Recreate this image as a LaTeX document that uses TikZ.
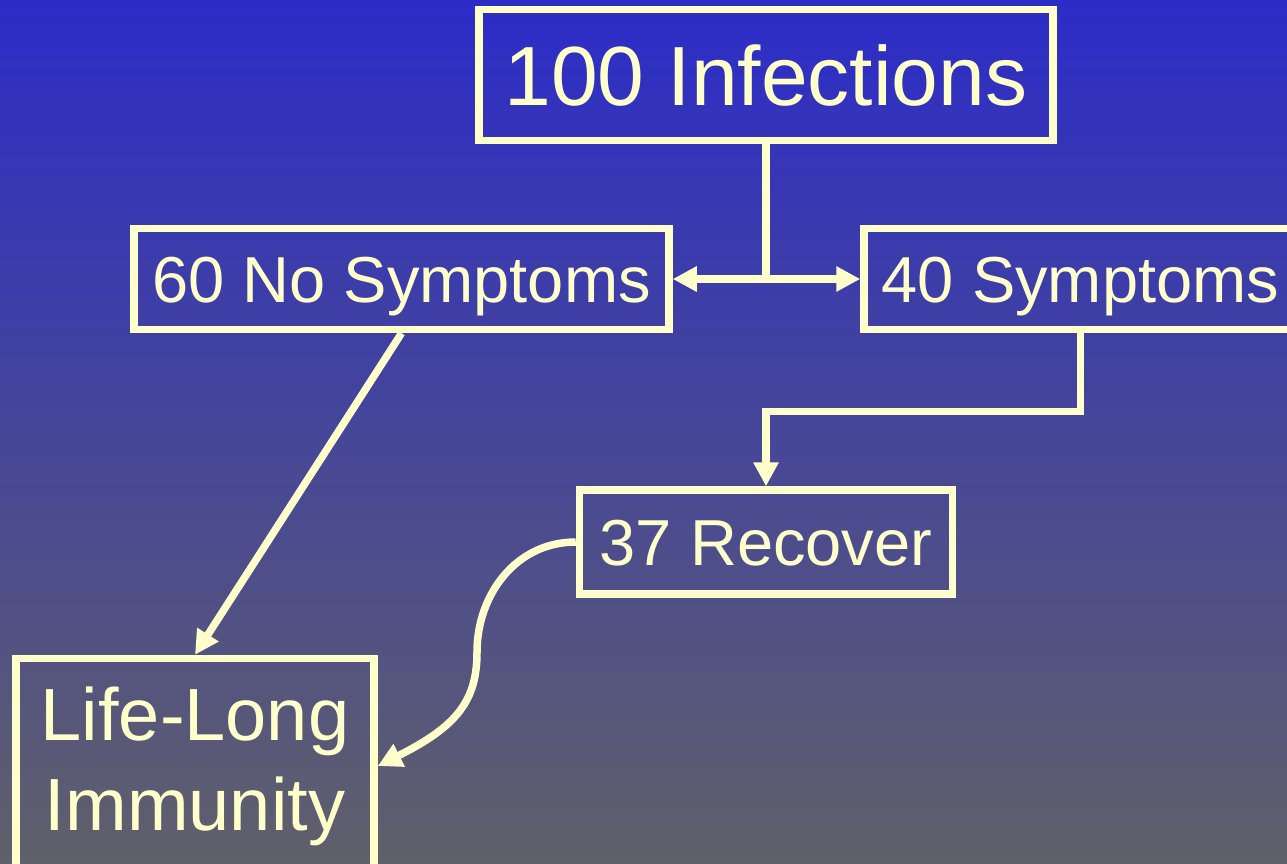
\documentclass[tikz,border=0pt]{standalone}
\usepackage{fontspec}
\setmainfont{Liberation Sans}
\usetikzlibrary{positioning}
\usetikzlibrary{arrows.meta}
\tikzset{>={Triangle[width=24pt,length=24pt]}}
\definecolor{cream}{RGB}{255,255,204}
\definecolor{bgtop}{RGB}{44,44,200}
\definecolor{bgbottom}{RGB}{96,96,106}

\begin{document}
\begin{tikzpicture}[x=1pt, y=-1pt, box/.style={draw=cream, line width=7.5pt, text=cream, inner sep=0pt}, bigbox/.style={box, font=\fontsize{84}{100}\selectfont, text height=60pt, text depth=0pt}, smallbox/.style={box, font=\fontsize{65}{78}\selectfont, text height=47pt, text depth=0pt}, immbox/.style={box, font=\fontsize{74}{90}\selectfont, align=center}, link/.style={draw=cream, line width=7.5pt}]

    %Background
    \useasboundingbox (0,0) rectangle (1287,863);
    \shade[top color=bgtop, bottom color=bgbottom] (0,0) rectangle (1287,863);

    %Nodes
    \node[bigbox, minimum width=574pt, minimum height=131pt](infections) at (766,75){100 Infections};
    \node[smallbox, minimum width=535pt, minimum height=101pt](nosymptoms) at (401.5,279){60 No Symptoms};
    \node[smallbox, minimum width=433pt, minimum height=101pt](symptoms) at (1080.5,279){40 Symptoms};
    \node[smallbox, minimum width=373pt, minimum height=104pt](recover)[below=342pt of infections]{37 Recover};
    \node[immbox, minimum width=358pt, minimum height=215pt](immunity) at (195,766){Life-Long\\Immunity};
    \coordinate (bend) at (477,652);

    %Lines
    \draw[link] (infections.south) -- (infections.south |- nosymptoms.east);
    \draw[link, <->] (nosymptoms.east) -- (symptoms.west);
    \draw[link, ->] (symptoms.south) -- ++(0,78) -| (recover.north);
    \draw[link, ->] (nosymptoms.south) -- (immunity.north);
    \draw[link, ->] (recover.west) .. controls +(-60,0) and +(0,-57) .. (bend) .. controls +(0,48) and +(80,-40) .. (immunity.east);

\end{tikzpicture}
\end{document}
